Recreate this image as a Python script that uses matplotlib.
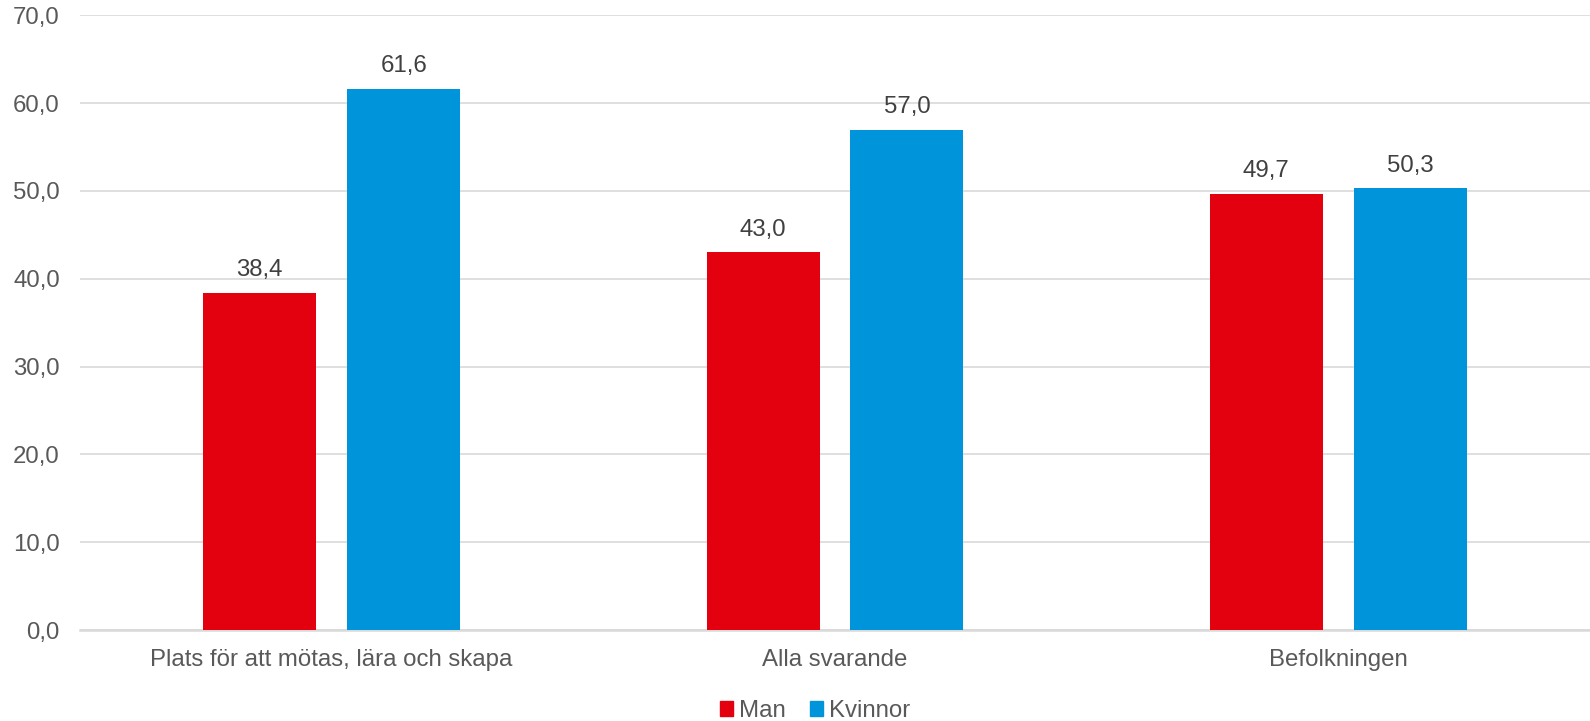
import matplotlib
matplotlib.use("Agg")
import matplotlib.pyplot as plt
import numpy as np
from matplotlib.patches import Patch

plt.rcParams["font.family"] = ["Liberation Sans", "DejaVu Sans"]

categories = ["Plats för att mötas, lära och skapa", "Alla svarande", "Befolkningen"]
series_names = ["Man", "Kvinnor"]
man = [38.4, 43.0, 49.7]
kvinnor = [61.6, 57.0, 50.3]
yticks = [0, 10, 20, 30, 40, 50, 60, 70]

RED = "#E3000F"
BLUE = "#0095DA"
GRID = "#D9D9D9"
FS = 17.3


def fmt(v):
    return f"{v:.1f}".replace(".", ",")


fig = plt.figure(figsize=(15.9, 7.21), dpi=100)
ax = fig.add_axes([80 / 1590, 1 - 630 / 721, 1 - 80 / 1590, (630 - 15.4) / 721])

x = np.arange(len(categories))
w = 0.2245
off = 0.143
bars_m = ax.bar(x - off, man, w, color=RED, zorder=3)
bars_k = ax.bar(x + off, kvinnor, w, color=BLUE, zorder=3)

for bars, vals in ((bars_m, man), (bars_k, kvinnor)):
    for b, v in zip(bars, vals):
        ax.annotate(fmt(v), (b.get_x() + b.get_width() / 2, v),
                    xytext=(0, 12), textcoords="offset points",
                    ha="center", va="baseline", fontsize=FS, color="#404040")

ax.set_xlim(-0.5, 2.5)
ax.set_ylim(0, 70)
ax.set_yticks(yticks)
ax.set_yticklabels([fmt(t) for t in yticks])
ax.set_xticks(x)
ax.set_xticklabels(categories)
ax.tick_params(axis="y", length=0, pad=14.5, labelsize=FS, labelcolor="#595959")
ax.tick_params(axis="x", length=0, pad=14, labelsize=FS, labelcolor="#595959")

ax.grid(axis="y", color=GRID, linewidth=1.2, zorder=0)
for s in ("top", "right", "left"):
    ax.spines[s].set_visible(False)
ax.spines["bottom"].set_color(GRID)
ax.spines["bottom"].set_linewidth(1.8)

handles = [Patch(color=RED), Patch(color=BLUE)]
fig.legend(handles, series_names, loc="center", bbox_to_anchor=(815 / 1590, 1 - 711 / 721),
           ncol=2, frameon=False, fontsize=FS, labelcolor="#595959",
           handlelength=0.55, handleheight=0.55, handletextpad=0.25, columnspacing=1.0)

fig.savefig("out.png", dpi=100)
